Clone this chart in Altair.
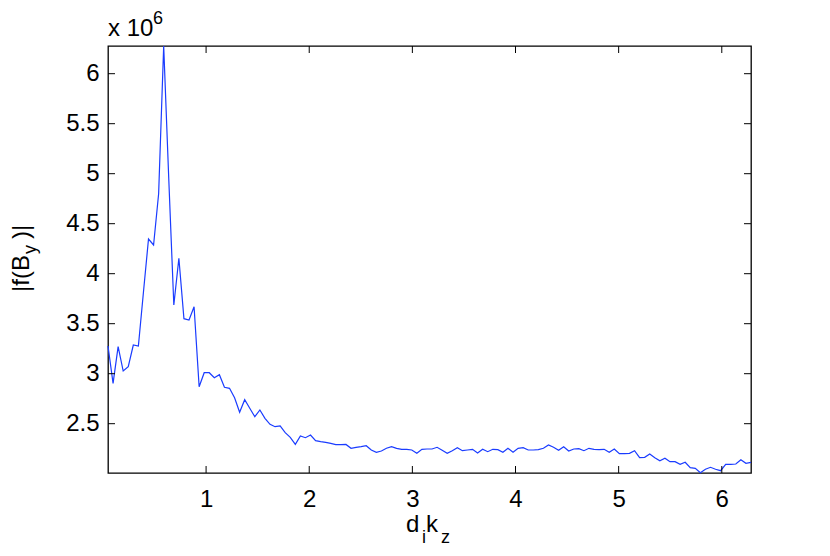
import altair as alt
import pandas as pd
import numpy as np

# grid of wavenumbers d_i k_z (128 samples up to 2*pi)
n_samples = 128
dikz = [2 * np.pi * k / n_samples for k in range(1, n_samples + 1)]

# |f(B_y)| in units of 1e6
fby = [
    3.277, 2.904, 3.270, 3.027, 3.070, 3.287, 3.277, 3.814, 4.347, 4.287,
    4.800, 6.277, 4.950, 3.687, 4.154, 3.550, 3.537, 3.670, 2.870, 3.010,
    3.010, 2.960, 2.990, 2.864, 2.854, 2.760, 2.614, 2.740, 2.654, 2.570,
    2.637, 2.554, 2.494, 2.470, 2.477, 2.410, 2.364, 2.294, 2.377, 2.360,
    2.387, 2.330, 2.320, 2.314, 2.304, 2.290, 2.290, 2.293, 2.254, 2.264,
    2.270, 2.280, 2.237, 2.214, 2.227, 2.254, 2.270, 2.254, 2.244, 2.244,
    2.237, 2.204, 2.244, 2.247, 2.247, 2.264, 2.234, 2.204, 2.230, 2.260,
    2.230, 2.237, 2.244, 2.206, 2.244, 2.220, 2.244, 2.240, 2.214, 2.254,
    2.214, 2.254, 2.260, 2.237, 2.237, 2.240, 2.254, 2.287, 2.264, 2.234,
    2.270, 2.227, 2.247, 2.250, 2.230, 2.254, 2.244, 2.240, 2.244, 2.214,
    2.247, 2.200, 2.200, 2.204, 2.230, 2.160, 2.164, 2.197, 2.160, 2.130,
    2.154, 2.120, 2.120, 2.094, 2.114, 2.060, 2.054, 2.010, 2.044, 2.064,
    2.044, 2.030, 2.094, 2.094, 2.097, 2.140, 2.104, 2.114,
]

x_ticks = [1, 2, 3, 4, 5, 6]
y_ticks = [2.5, 3, 3.5, 4, 4.5, 5, 5.5, 6]

W, H = 643, 427
FONT = "Liberation Sans"
FS = 24
SUB = 18
TICK = 7

df = pd.DataFrame({"x": dikz, "y": fby})
xt = pd.DataFrame({"x": x_ticks})
yt = pd.DataFrame({"y": y_ticks})

xscale = alt.Scale(domain=[dikz[0], dikz[-1]], nice=False, zero=False)
yscale = alt.Scale(domain=[2.007, 6.277], nice=False, zero=False)

xaxis = alt.Axis(values=x_ticks, format="d", title=None, ticks=False, tickSize=0,
                 domain=False, grid=False, labelFontSize=FS, labelFont=FONT,
                 labelColor="black", labelPadding=14)
yaxis = alt.Axis(values=y_ticks, format="~g", title=None, ticks=False, tickSize=0,
                 domain=False, grid=False, labelFontSize=FS, labelFont=FONT,
                 labelColor="black", labelPadding=9)

X = alt.X("x:Q", scale=xscale, axis=xaxis)
Y = alt.Y("y:Q", scale=yscale, axis=yaxis)

line = alt.Chart(df).mark_line(color="#1a3cff", strokeWidth=1.2).encode(x=X, y=Y)

tick_style = dict(color="black", strokeWidth=1)
bottom_ticks = alt.Chart(xt).mark_rule(**tick_style).encode(
    x=X, y=alt.value(H), y2=alt.value(H - TICK))
top_ticks = alt.Chart(xt).mark_rule(**tick_style).encode(
    x=X, y=alt.value(0), y2=alt.value(TICK))
left_ticks = alt.Chart(yt).mark_rule(**tick_style).encode(
    y=Y, x=alt.value(0), x2=alt.value(TICK))
right_ticks = alt.Chart(yt).mark_rule(**tick_style).encode(
    y=Y, x=alt.value(W), x2=alt.value(W - TICK))

one = pd.DataFrame({"a": [0]})


def txt(s, x, y, size=FS, angle=0):
    kw = dict(font=FONT, fontSize=size, color="black", align="left", baseline="alphabetic")
    if angle:
        kw["angle"] = angle
    return alt.Chart(one).mark_text(**kw).encode(
        x=alt.value(x), y=alt.value(y), text=alt.value(s))


labels = [
    # x 10^6 multiplier
    txt("x 10", 0, -10),
    txt("6", 45, -22, size=SUB),
    # x-axis title d_i k_z
    txt("d", 298, 486),
    txt("i", 314, 497, size=SUB),
    txt("k", 318, 486),
    txt("z", 333, 497, size=SUB),
    # y-axis title |f(B_y)|
    txt("|f(B", -79, 246, angle=270),
    txt("y", -72, 208, size=SUB, angle=270),
    txt(")|", -79, 193, angle=270),
]

chart = alt.layer(line, bottom_ticks, top_ticks, left_ticks, right_ticks, *labels).properties(
    width=W, height=H,
    padding={"left": 100, "top": 38, "right": 70, "bottom": 76},
    autosize=alt.AutoSizeParams(type="none"),
    background="white",
).configure_view(stroke="black", strokeWidth=1.3)

chart.save("out.html", embed_options={"renderer": "svg", "actions": False})
